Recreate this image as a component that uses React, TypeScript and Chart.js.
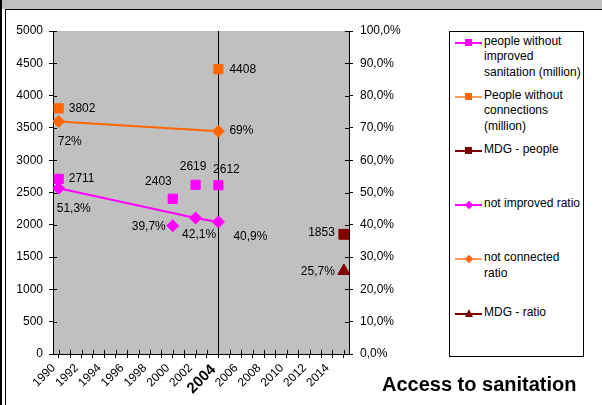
import React, { useEffect, useRef } from 'react';
import { Chart, registerables } from 'chart.js';

Chart.register(...registerables);

// ---------- data ----------
const YEAR_TICKS = [
  1990, 1991, 1992, 1993, 1994, 1995, 1996, 1997, 1998, 1999, 2000, 2001, 2002,
  2003, 2004, 2005, 2006, 2007, 2008, 2009, 2010, 2011, 2012, 2013, 2014, 2015,
];
const HIGHLIGHT_YEAR = 2004;
const LEFT_TICKS = [0, 500, 1000, 1500, 2000, 2500, 3000, 3500, 4000, 4500, 5000];
const RIGHT_TICKS = [0, 10, 20, 30, 40, 50, 60, 70, 80, 90, 100];

const SANITATION_YEARS = [1990, 2000, 2002, 2004];
const PEOPLE_NO_SANITATION = [2711, 2403, 2619, 2612];

const CONNECTION_YEARS = [1990, 2004];
const PEOPLE_NO_CONNECTION = [3802, 4408];

const MDG_YEARS = [2015];
const MDG_PEOPLE = [1853];
const MDG_RATIO = [25.7];

const NOT_IMPROVED_YEARS = [1990, 2002, 2004];
const NOT_IMPROVED_RATIO = [51.3, 42.1, 40.9];
const NOT_IMPROVED_EXTRA_YEARS = [2000];
const NOT_IMPROVED_EXTRA_RATIO = [39.7];

const NOT_CONNECTED_YEARS = [1990, 2004];
const NOT_CONNECTED_RATIO = [72, 69];

const LEGEND_LABELS = [
  'people without\nimproved\nsanitation (million)',
  'People without\nconnections\n(million)',
  'MDG - people',
  'not improved ratio',
  'not connected\nratio',
  'MDG - ratio',
];

const TITLE = 'Access to sanitation';

// ---------- styles ----------
const FONT = "'Liberation Sans', Arial, Helvetica, sans-serif";
const MAGENTA = '#ff00ff';
const ORANGE = '#ff6600';
const ORANGE_LIGHT = '#ff9966';
const DARK_RED = '#800000';
const PLOT_BG = '#c0c0c0';

type LabelPos = { dx: number; dy: number; align: CanvasTextAlign };

const fmtInt = (v: number) => String(v);
const fmtPct = (v: number) =>
  (Number.isInteger(v) ? String(v) : v.toFixed(1).replace('.', ',')) + '%';

const pts = (xs: number[], ys: number[]) => xs.map((x, i) => ({ x, y: ys[i] }));

const bgPlugin = {
  id: 'plotBg',
  beforeDraw(chart: any) {
    const { ctx, chartArea: a } = chart;
    ctx.save();
    ctx.fillStyle = PLOT_BG;
    ctx.fillRect(a.left, a.top, a.right - a.left, a.bottom - a.top);
    ctx.restore();
  },
};

const vLinePlugin = {
  id: 'vLine',
  beforeDatasetsDraw(chart: any) {
    const { ctx, chartArea: a, scales } = chart;
    const px = Math.round(scales.x.getPixelForValue(HIGHLIGHT_YEAR)) + 0.5;
    ctx.save();
    ctx.strokeStyle = '#000';
    ctx.lineWidth = 1;
    ctx.beginPath();
    ctx.moveTo(px, a.top);
    ctx.lineTo(px, a.bottom);
    ctx.stroke();
    ctx.restore();
  },
};

const innerTicksPlugin = {
  id: 'innerTicks',
  afterDraw(chart: any) {
    const { ctx, chartArea: a, scales } = chart;
    ctx.save();
    ctx.strokeStyle = '#000';
    ctx.lineWidth = 1;
    ctx.beginPath();
    scales.x.ticks.forEach((t: any) => {
      const px = Math.round(scales.x.getPixelForValue(t.value)) + 0.5;
      ctx.moveTo(px, a.bottom);
      ctx.lineTo(px, a.bottom - 4);
    });
    scales.y.ticks.forEach((t: any) => {
      const py = Math.round(scales.y.getPixelForValue(t.value)) + 0.5;
      ctx.moveTo(a.left, py);
      ctx.lineTo(a.left + 4, py);
    });
    scales.y1.ticks.forEach((t: any) => {
      const py = Math.round(scales.y1.getPixelForValue(t.value)) + 0.5;
      ctx.moveTo(a.right, py);
      ctx.lineTo(a.right - 4, py);
    });
    ctx.stroke();
    ctx.restore();
  },
};

const labelPlugin = {
  id: 'pointLabels',
  afterDatasetsDraw(chart: any) {
    const { ctx } = chart;
    ctx.save();
    ctx.font = `12px ${FONT}`;
    ctx.fillStyle = '#000';
    ctx.textBaseline = 'middle';
    chart.data.datasets.forEach((ds: any, di: number) => {
      const meta = chart.getDatasetMeta(di);
      if (!ds.labelPos) return;
      meta.data.forEach((el: any, i: number) => {
        const p: LabelPos = ds.labelPos[i];
        if (!p) return;
        const v = ds.data[i].y;
        ctx.textAlign = p.align;
        ctx.fillText(ds.fmt(v), el.x + p.dx, el.y + p.dy);
      });
    });
    ctx.restore();
  },
};

function LegendMarker({ kind, color, lineColor }: { kind: string; color: string; lineColor: string }) {
  let marker: React.ReactNode = null;
  if (kind === 'rect') {
    marker = (
      <div style={{ position: 'absolute', left: 10, top: -3.5, width: 7, height: 7, background: color }} />
    );
  } else if (kind === 'diamond') {
    marker = (
      <div
        style={{
          position: 'absolute',
          left: 10.5,
          top: -3,
          width: 6,
          height: 6,
          background: color,
          transform: 'rotate(45deg)',
        }}
      />
    );
  } else {
    marker = (
      <div
        style={{
          position: 'absolute',
          left: 9.5,
          top: -5,
          width: 0,
          height: 0,
          borderLeft: '4px solid transparent',
          borderRight: '4px solid transparent',
          borderBottom: `8px solid ${color}`,
        }}
      />
    );
  }
  return (
    <div style={{ position: 'absolute', left: 5, top: 9, width: 27, height: 0 }}>
      <div style={{ position: 'absolute', left: 0, top: -1, width: 27, height: 2, background: lineColor }} />
      {marker}
    </div>
  );
}

const LEGEND_STYLE = [
  { kind: 'rect', color: MAGENTA, lineColor: MAGENTA },
  { kind: 'rect', color: ORANGE, lineColor: ORANGE_LIGHT },
  { kind: 'rect', color: DARK_RED, lineColor: DARK_RED },
  { kind: 'diamond', color: MAGENTA, lineColor: MAGENTA },
  { kind: 'diamond', color: ORANGE, lineColor: ORANGE_LIGHT },
  { kind: 'triangle', color: DARK_RED, lineColor: DARK_RED },
];

export default function App() {
  const ref = useRef<HTMLCanvasElement | null>(null);

  useEffect(() => {
    if (!ref.current) return;
    const tickFont = { family: FONT, size: 12 };
    const chart = new Chart(ref.current, {
      type: 'line',
      data: {
        datasets: [
          {
            label: LEGEND_LABELS[3].replace(/\n/g, ' '),
            data: pts(NOT_IMPROVED_YEARS, NOT_IMPROVED_RATIO),
            yAxisID: 'y1',
            borderColor: MAGENTA,
            backgroundColor: MAGENTA,
            borderWidth: 2,
            pointStyle: 'rectRot',
            pointRadius: 6,
            pointBorderWidth: 1,
            labelPos: [
              { dx: -2, dy: 20, align: 'left' },
              { dx: 3.5, dy: 17, align: 'center' },
              { dx: 15, dy: 15, align: 'left' },
            ],
            fmt: fmtPct,
          } as any,
          {
            label: LEGEND_LABELS[3].replace(/\n/g, ' '),
            data: pts(NOT_IMPROVED_EXTRA_YEARS, NOT_IMPROVED_EXTRA_RATIO),
            yAxisID: 'y1',
            showLine: false,
            borderColor: MAGENTA,
            backgroundColor: MAGENTA,
            pointStyle: 'rectRot',
            pointRadius: 6,
            pointBorderWidth: 1,
            labelPos: [{ dx: -7, dy: 1, align: 'right' }],
            fmt: fmtPct,
          } as any,
          {
            label: LEGEND_LABELS[4].replace(/\n/g, ' '),
            data: pts(NOT_CONNECTED_YEARS, NOT_CONNECTED_RATIO),
            yAxisID: 'y1',
            borderColor: ORANGE,
            backgroundColor: ORANGE,
            borderWidth: 2,
            pointStyle: 'rectRot',
            pointRadius: 6,
            pointBorderWidth: 1,
            labelPos: [
              { dx: -1, dy: 20, align: 'left' },
              { dx: 11, dy: 0, align: 'left' },
            ],
            fmt: fmtPct,
          } as any,
          {
            label: LEGEND_LABELS[5],
            data: pts(MDG_YEARS, MDG_RATIO),
            yAxisID: 'y1',
            showLine: false,
            borderColor: DARK_RED,
            backgroundColor: DARK_RED,
            pointStyle: 'triangle',
            pointRadius: 7,
            pointBorderWidth: 1,
            labelPos: [{ dx: -9, dy: 1, align: 'right' }],
            fmt: fmtPct,
          } as any,
          {
            label: LEGEND_LABELS[0].replace(/\n/g, ' '),
            data: pts(SANITATION_YEARS, PEOPLE_NO_SANITATION),
            yAxisID: 'y',
            showLine: false,
            borderColor: MAGENTA,
            backgroundColor: MAGENTA,
            pointStyle: 'rect',
            pointRadius: 6.5,
            pointBorderWidth: 1,
            labelPos: [
              { dx: 10, dy: 0, align: 'left' },
              { dx: -1, dy: -17, align: 'right' },
              { dx: -2.5, dy: -18, align: 'center' },
              { dx: 8, dy: -16, align: 'center' },
            ],
            fmt: fmtInt,
          } as any,
          {
            label: LEGEND_LABELS[1].replace(/\n/g, ' '),
            data: pts(CONNECTION_YEARS, PEOPLE_NO_CONNECTION),
            yAxisID: 'y',
            showLine: false,
            borderColor: ORANGE,
            backgroundColor: ORANGE,
            pointStyle: 'rect',
            pointRadius: 6.5,
            pointBorderWidth: 1,
            labelPos: [
              { dx: 10, dy: 0, align: 'left' },
              { dx: 11, dy: 0, align: 'left' },
            ],
            fmt: fmtInt,
          } as any,
          {
            label: LEGEND_LABELS[2],
            data: pts(MDG_YEARS, MDG_PEOPLE),
            yAxisID: 'y',
            showLine: false,
            borderColor: DARK_RED,
            backgroundColor: DARK_RED,
            pointStyle: 'rect',
            pointRadius: 7,
            pointBorderWidth: 1,
            labelPos: [{ dx: -9, dy: -2, align: 'right' }],
            fmt: fmtInt,
          } as any,
        ],
      },
      options: {
        responsive: false,
        animation: false,
        events: [],
        layout: { padding: { top: 31, left: 0, right: 0, bottom: 0 } },
        plugins: {
          legend: { display: false },
          tooltip: { enabled: false },
          title: { display: false },
        },
        scales: {
          x: {
            type: 'linear',
            min: 1989.5,
            max: 2015.45,
            afterBuildTicks: (s: any) => {
              s.ticks = YEAR_TICKS.map((v) => ({ value: v }));
            },
            afterFit: (s: any) => {
              s.height = 51;
            },
            grid: { drawOnChartArea: false, tickLength: 4, color: '#000', tickColor: '#000' },
            border: { display: true, color: '#000', width: 1 },
            ticks: {
              autoSkip: false,
              minRotation: 45,
              maxRotation: 45,
              padding: 3,
              labelOffset: -5,
              color: '#000',
              callback: (v: any) => (Number(v) % 2 === 0 ? String(v) : ''),
              font: (c: any) =>
                c.tick && c.tick.value === HIGHLIGHT_YEAR
                  ? { family: FONT, size: 15, weight: 'bold' }
                  : { family: FONT, size: 12 },
            },
          },
          y: {
            type: 'linear',
            position: 'left',
            min: 0,
            max: 5000,
            afterBuildTicks: (s: any) => {
              s.ticks = LEFT_TICKS.map((v) => ({ value: v }));
            },
            afterFit: (s: any) => {
              s.width = 53;
            },
            grid: { drawOnChartArea: false, tickLength: 4, color: '#000', tickColor: '#000' },
            border: { display: true, color: '#000', width: 1 },
            ticks: { color: '#000', font: tickFont, padding: 6, callback: (v: any) => String(v) },
          },
          y1: {
            type: 'linear',
            position: 'right',
            min: 0,
            max: 100,
            afterBuildTicks: (s: any) => {
              s.ticks = RIGHT_TICKS.map((v) => ({ value: v }));
            },
            afterFit: (s: any) => {
              s.width = 253;
            },
            grid: { drawOnChartArea: false, tickLength: 4, color: '#000', tickColor: '#000' },
            border: { display: true, color: '#000', width: 1 },
            ticks: {
              color: '#000',
              font: tickFont,
              padding: 7,
              callback: (v: any) => Number(v).toFixed(1).replace('.', ',') + '%',
            },
          },
        },
      } as any,
      plugins: [bgPlugin, vLinePlugin, labelPlugin, innerTicksPlugin],
    });
    return () => chart.destroy();
  }, []);

  return (
    <div
      style={{
        position: 'absolute',
        left: 0,
        top: 0,
        width: 602,
        height: 405,
        background: '#fff',
        overflow: 'hidden',
        fontFamily: FONT,
      }}
    >
      <canvas ref={ref} width={602} height={405} style={{ position: 'absolute', left: 0, top: 0, width: 602, height: 405 }} />
      {/* frame */}
      <div style={{ position: 'absolute', left: 0, top: 0, width: 602, height: 9, background: PLOT_BG }} />
      <div style={{ position: 'absolute', left: 5, top: 9, width: 597, height: 1, background: '#000' }} />
      <div style={{ position: 'absolute', left: 0, top: 0, width: 2, height: 405, background: '#000' }} />
      <div style={{ position: 'absolute', left: 5, top: 9, width: 1, height: 396, background: '#000' }} />
      {/* legend */}
      <div
        style={{
          position: 'absolute',
          left: 449,
          top: 31,
          width: 135,
          height: 326,
          border: '1px solid #000',
          boxSizing: 'border-box',
          background: '#fff',
        }}
      >
        {LEGEND_LABELS.map((lab, i) => (
          <div key={i} style={{ position: 'absolute', left: 0, top: 1.5 + i * 54.2, width: 133 }}>
            <LegendMarker {...LEGEND_STYLE[i]} />
            <div
              style={{
                position: 'absolute',
                left: 34,
                top: 0,
                fontSize: 12,
                lineHeight: '15.5px',
                whiteSpace: 'pre',
                color: '#000',
              }}
            >
              {lab}
            </div>
          </div>
        ))}
      </div>
      {/* title */}
      <div
        style={{
          position: 'absolute',
          left: 382,
          top: 373,
          fontSize: 20,
          fontWeight: 'bold',
          lineHeight: '22px',
          color: '#000',
          whiteSpace: 'nowrap',
        }}
      >
        {TITLE}
      </div>
    </div>
  );
}
